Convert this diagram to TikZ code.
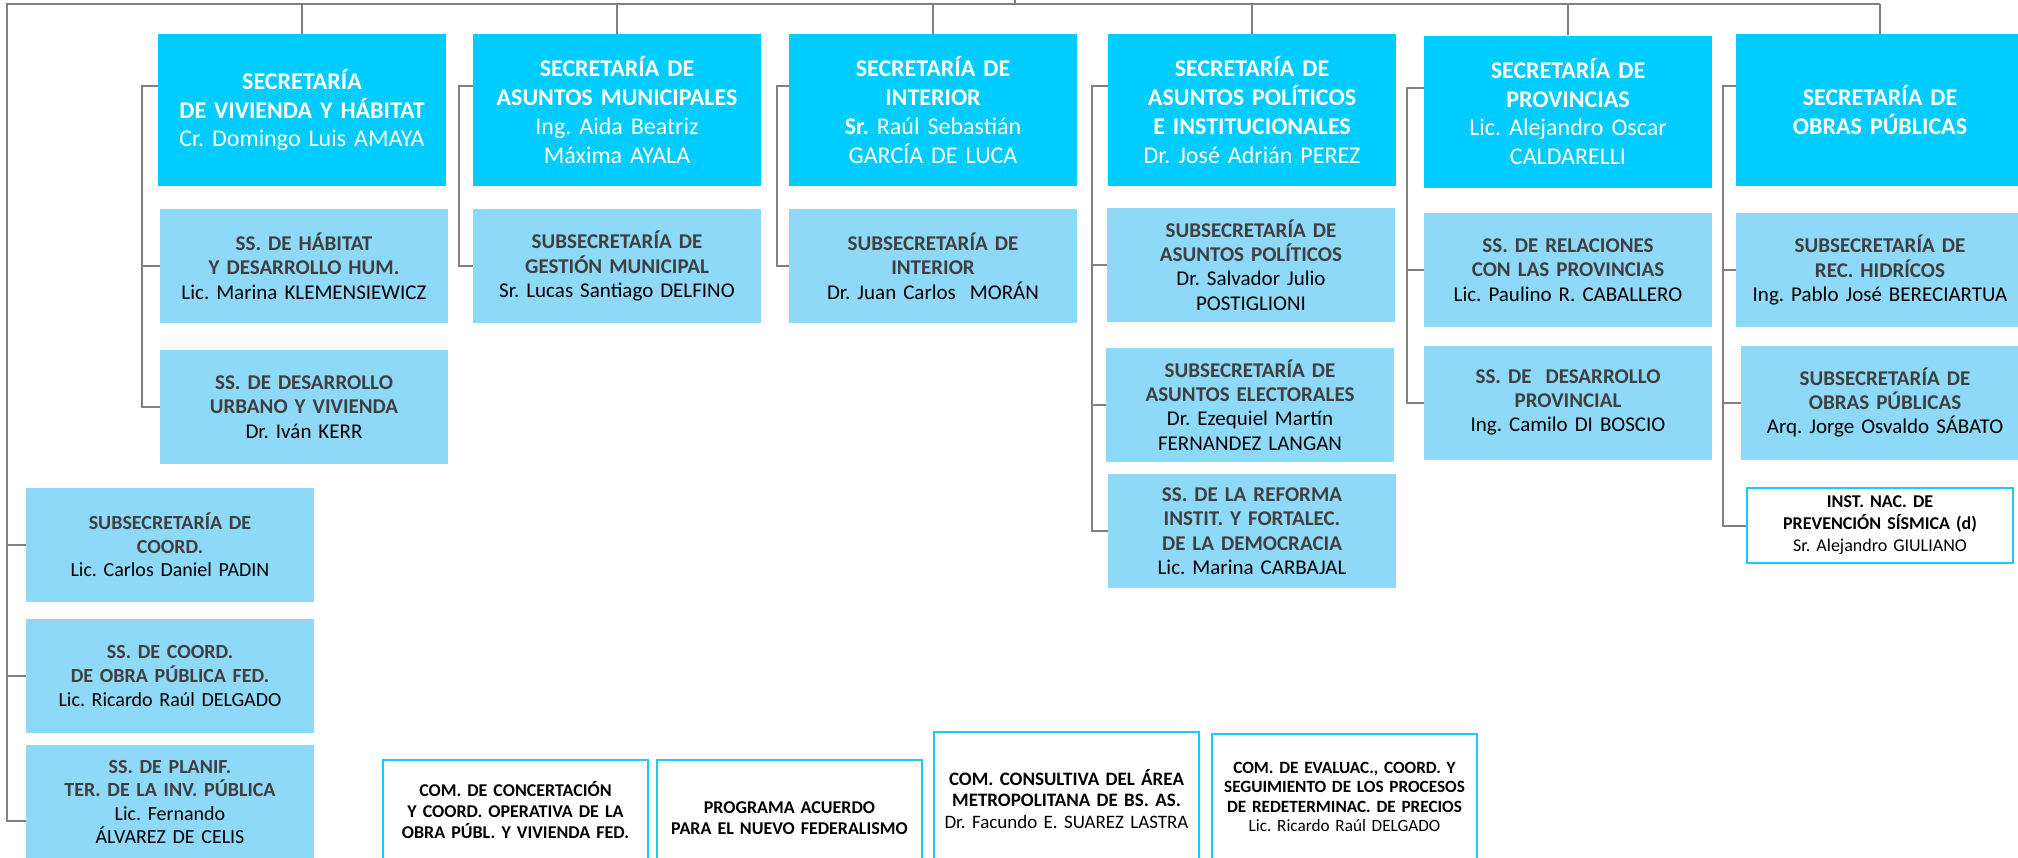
\documentclass[tikz,border=0pt]{standalone}
\usepackage{fontspec}
\setmainfont{Carlito}
\usetikzlibrary{calc}
\frenchspacing

\definecolor{seccyan}{HTML}{00CCFF}
\definecolor{subblue}{HTML}{8ED8F8}
\definecolor{linegray}{HTML}{808080}
\definecolor{titlegray}{HTML}{3F3F3F}
\definecolor{framecyan}{HTML}{1CCBF7}
\newcommand{\hd}[1]{{\bfseries\color{titlegray}#1}}

\begin{document}
\begin{tikzpicture}[
  x=0.5pt, y=-0.5pt,
  sec/.style={fill=seccyan, text=white, inner sep=0pt, align=center,
              minimum width=144pt, minimum height=76pt, text width=144pt,
              font=\fontsize{12}{14.4}\selectfont},
  sub/.style={fill=subblue, text=black, inner sep=0pt, align=center,
              minimum width=144pt, minimum height=57pt, text width=144pt,
              font=\fontsize{10.5}{12.2}\selectfont},
  inst/.style={draw=framecyan, line width=1pt, fill=white, inner sep=0pt,
               align=center, minimum width=133pt, minimum height=37.5pt,
               text width=133pt, font=\fontsize{9}{11}\selectfont},
  com/.style={draw=framecyan, line width=1pt, fill=white, inner sep=0pt,
              align=center, minimum width=132.5pt, text width=132.5pt,
              font=\fontsize{9}{10.7}\selectfont},
  link/.style={draw=linegray, line width=1pt}]
\useasboundingbox (0,0) rectangle (2018,857);
\clip (0,0) rectangle (2018,857);

% secretarias
\node[sec] (b1) at (302,110) {\textbf{SECRETARÍA\\DE VIVIENDA Y HÁBITAT}\\Cr. Domingo Luis AMAYA};
\node[sec] (b2) at (617,110) {\textbf{SECRETARÍA DE\\ASUNTOS MUNICIPALES}\\Ing. Aida Beatriz\\Máxima AYALA};
\node[sec] (b3) at (933,110) {\textbf{SECRETARÍA DE\\INTERIOR}\\\textbf{Sr.} Raúl Sebastián\\GARCÍA DE LUCA};
\node[sec] (b4) at (1252,110) {\textbf{SECRETARÍA DE\\ASUNTOS POLÍTICOS\\E INSTITUCIONALES}\\Dr. José Adrián PEREZ};
\node[sec] (b5) at (1568,111.5) {\textbf{SECRETARÍA DE\\PROVINCIAS}\\Lic. Alejandro Oscar\\CALDARELLI};
\node[sec] (b6) at (1880,110) {\textbf{SECRETARÍA DE\\OBRAS PÚBLICAS}};

% subsecretarias
\node[sub] (s11) at (304,266) {\hd{SS. DE HÁBITAT\\Y DESARROLLO HUM.}\\Lic. Marina KLEMENSIEWICZ};
\node[sub] (s12) at (304,407) {\hd{SS. DE DESARROLLO\\URBANO Y VIVIENDA}\\Dr. Iván KERR};
\node[sub] (s21) at (617,266) {\hd{SUBSECRETARÍA DE\\GESTIÓN MUNICIPAL}\\Sr. Lucas Santiago DELFINO};
\node[sub] (s31) at (933,266) {\hd{SUBSECRETARÍA DE\\INTERIOR}\\Dr. Juan Carlos\ \ MORÁN};
\node[sub] (s41) at (1251,265) {\hd{SUBSECRETARÍA DE\\ASUNTOS POLÍTICOS}\\Dr. Salvador Julio\\POSTIGLIONI};
\node[sub] (s42) at (1250,405) {\hd{SUBSECRETARÍA DE\\ASUNTOS ELECTORALES}\\Dr. Ezequiel Martín\\FERNANDEZ LANGAN};
\node[sub] (s43) at (1252,531) {\hd{SS. DE LA REFORMA\\INSTIT. Y FORTALEC.\\DE LA DEMOCRACIA}\\Lic. Marina CARBAJAL};
\node[sub] (s51) at (1568,270) {\hd{SS. DE RELACIONES\\CON LAS PROVINCIAS}\\Lic. Paulino R. CABALLERO};
\node[sub] (s52) at (1568,402.5) {\hd{SS. DE\ \ DESARROLLO\\PROVINCIAL}\\Ing. Camilo DI BOSCIO};
\node[sub] (s61) at (1880,270) {\hd{SUBSECRETARÍA DE\\REC. HIDRÍCOS}\\Ing. Pablo José BERECIARTUA};
\node[sub] (s62) at (1885,402.5) {\hd{SUBSECRETARÍA DE\\OBRAS PÚBLICAS}\\Arq. Jorge Osvaldo SÁBATO};
\node[inst] (ins) at (1880,525.5) {\textbf{INST. NAC. DE\\PREVENCIÓN SÍSMICA (d)}\\Sr. Alejandro GIULIANO};

% columna izquierda
\node[sub, font=\fontsize{10}{11.8}\selectfont] (l1) at (170,545) {\hd{SUBSECRETARÍA DE\\COORD.}\\Lic. Carlos Daniel PADIN};
\node[sub, font=\fontsize{10}{11.8}\selectfont] (l2) at (170,676) {\hd{SS. DE COORD.\\DE OBRA PÚBLICA FED.}\\Lic. Ricardo Raúl DELGADO};
\node[sub, font=\fontsize{10}{11.6}\selectfont] (l3) at (170,802) {\hd{SS. DE PLANIF.\\TER. DE LA INV. PÚBLICA}\\Lic. Fernando\\ÁLVAREZ DE CELIS};

% comisiones
\node[com, minimum height=50pt] (c1) at (515.5,810) {\textbf{COM. DE CONCERTACIÓN\\Y COORD. OPERATIVA DE LA\\OBRA PÚBL. Y VIVIENDA FED.}};
\node[com, minimum height=58pt] (c2) at (789.5,818) {\textbf{PROGRAMA ACUERDO\\PARA EL NUEVO FEDERALISMO}};
\node[com, minimum height=67pt, font=\fontsize{9.5}{10.7}\selectfont] (c3) at (1066.5,799) {\textbf{COM. CONSULTIVA DEL ÁREA\\METROPOLITANA DE BS. AS.}\\Dr. Facundo E. SUAREZ LASTRA};
\node[com, minimum height=63pt, font=\fontsize{8.6}{9.8}\selectfont] (c4) at (1344.5,797) {\textbf{COM. DE EVALUAC., COORD. Y\\SEGUIMIENTO DE LOS PROCESOS\\DE REDETERMINAC. DE PRECIOS}\\Lic. Ricardo Raúl DELGADO};

% lineas
\coordinate (topL) at (7,4);
\coordinate (head) at (1015,-4);
\coordinate (lft) at (7,821);
\foreach \c/\x in {1/142, 2/459, 3/777, 4/1092, 5/1407, 6/1723}
  \coordinate (k\c) at (\x,0);

\draw[link] (head) -- (head |- topL);
\draw[link] (b6.north |- topL) -- (topL) -- (lft) -- (lft -| l3.west);
\foreach \n in {l1, l2}
  \draw[link] (topL |- \n.west) -- (\n.west);
\foreach \n in {b1, b2, b3, b4, b5, b6}
  \draw[link] (\n.north |- topL) -- (\n.north);
\foreach \hi/\lo/\spine in {b1/s12/k1, b2/s21/k2, b3/s31/k3, b4/s43/k4, b5/s52/k5, b6/ins/k6}
  \draw[link] ([yshift=12pt]\hi.west) -| (\spine |- \lo.west) -- (\lo.west);
\foreach \lo/\spine in {s11/k1, s41/k4, s42/k4, s51/k5, s61/k6, s62/k6}
  \draw[link] (\spine |- \lo.west) -- (\lo.west);
\end{tikzpicture}
\end{document}
